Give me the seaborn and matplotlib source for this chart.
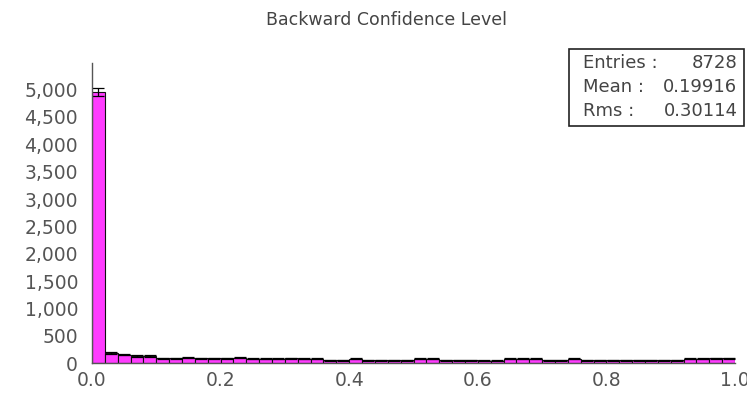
import numpy as np
import pandas as pd
import matplotlib
matplotlib.use("Agg")
import matplotlib.pyplot as plt
from matplotlib.patches import Rectangle
from matplotlib.ticker import FuncFormatter, MultipleLocator
import seaborn as sns

# ---- data ----
bin_width = 0.02
counts = [4960, 190, 160, 135, 135, 90, 90, 105, 90, 90,
          90, 105, 80, 80, 80, 95, 80, 80, 55, 55,
          80, 55, 55, 55, 55, 80, 80, 55, 55, 55,
          50, 50, 80, 80, 80, 55, 55, 80, 55, 55,
          55, 55, 55, 55, 55, 58, 80, 80, 95, 95]
title = "Backward Confidence Level"
stat_labels = ["Entries :", "Mean :", "Rms :"]
stat_values = ["8728", "0.19916", "0.30114"]
x_ticks = [0.0, 0.2, 0.4, 0.6, 0.8, 1.0]

centers = bin_width * (np.arange(len(counts)) + 0.5)
df = pd.DataFrame({"x": centers, "n": counts})

sns.set_theme(style="white")
plt.rcParams["font.family"] = ["DejaVu Sans"]

W, H = 747, 398
fig = plt.figure(figsize=(W / 100, H / 100), dpi=100)
ax = fig.add_axes([92 / W, 34.7 / H, 643 / W, 300.6 / H])

sns.histplot(data=df, x="x", weights="n", binwidth=bin_width, binrange=(0, 1),
             ax=ax, color="#ff3cff", alpha=1.0, edgecolor="#111111", linewidth=0.8)
ax.errorbar(df["x"], df["n"], yerr=np.sqrt(df["n"]), fmt="none",
            ecolor="black", elinewidth=0.9, capsize=4.4, capthick=0.9)

ax.set_xlim(0, 1.0)
ax.set_ylim(0, 5490)
ax.set_xlabel("")
ax.set_ylabel("")
ax.set_xticks(x_ticks)
ax.xaxis.set_major_formatter(FuncFormatter(lambda v, p: f"{v:.1f}"))
ax.yaxis.set_major_locator(MultipleLocator(500))
ax.yaxis.set_major_formatter(FuncFormatter(lambda v, p: f"{v:,.0f}"))

for s in ["top", "right"]:
    ax.spines[s].set_visible(False)
for s in ["left", "bottom"]:
    ax.spines[s].set_color("#555555")
    ax.spines[s].set_linewidth(1.0)
ax.tick_params(axis="y", direction="out", length=7, width=1, color="#555555",
               labelcolor="#555555", labelsize=13.5, pad=3)
ax.tick_params(axis="x", direction="inout", length=11, width=1, color="#555555",
               labelcolor="#555555", labelsize=13.5, pad=0)
ax.grid(False)

fig.text(386.5 / W, 1 - 20 / H, title, ha="center", va="center",
         fontsize=12.5, color="#444444")

# statistics box
fig.add_artist(Rectangle((568.7 / W, 1 - 126 / H), 175 / W, 76.7 / H,
                         transform=fig.transFigure, facecolor="white",
                         edgecolor="#222222", linewidth=1.2))
for i, (lab, val) in enumerate(zip(stat_labels, stat_values)):
    y = 1 - (63.5 + 23.8 * i) / H
    fig.text(583 / W, y, lab, ha="left", va="center", fontsize=13, color="#444444")
    fig.text(737.5 / W, y, val, ha="right", va="center", fontsize=13, color="#444444")

fig.savefig("out.png", dpi=100)
